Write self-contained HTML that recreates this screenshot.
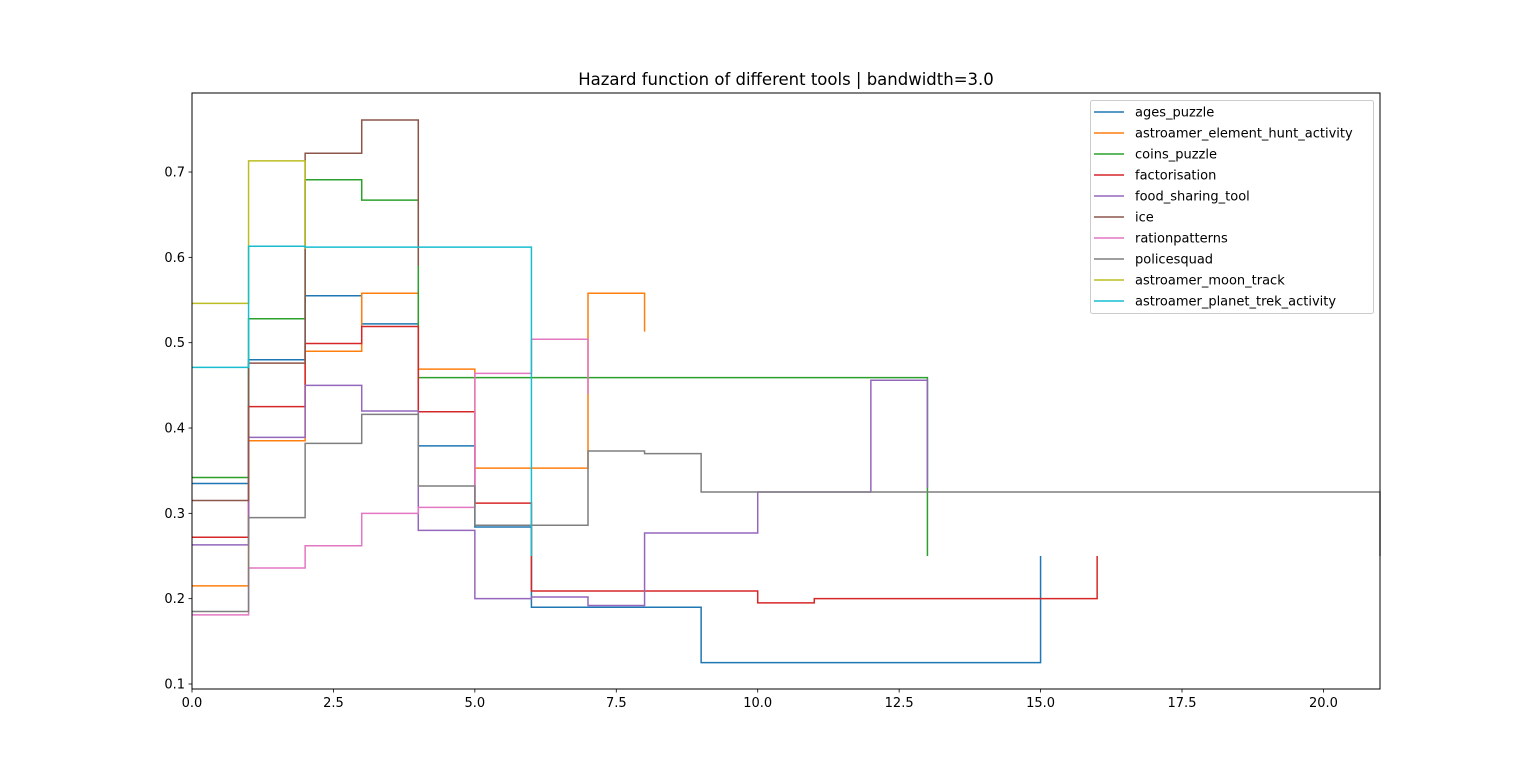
<!DOCTYPE html>
<html><head><meta charset="utf-8"><style>
html,body{margin:0;padding:0;background:#fff;}
svg{display:block;font-family:"DejaVu Sans","Liberation Sans",sans-serif;}
</style></head><body>
<svg id="chart" width="1533" height="775" viewBox="0 0 1533 775" xmlns="http://www.w3.org/2000/svg">
<rect width="1533" height="775" fill="#fff"/>
<text x="786" y="85" text-anchor="middle" font-size="16.5">Hazard function of different tools | bandwidth=3.0</text>
<g id="series"></g>
<rect x="192" y="93" width="1188" height="596" fill="none" stroke="#000" stroke-width="1"/>
<g id="xticks"></g><g id="yticks"></g>
<g id="legend"></g>
</svg>
<script>
const names = ["ages_puzzle","astroamer_element_hunt_activity","coins_puzzle","factorisation","food_sharing_tool","ice","rationpatterns","policesquad","astroamer_moon_track","astroamer_planet_trek_activity"];
const colors = ["#1f77b4","#ff7f0e","#2ca02c","#d62728","#9467bd","#8c564b","#e377c2","#7f7f7f","#bcbd22","#17becf"];
const agesPuzzle = [0.335,0.480,0.555,0.522,0.379,0.284,0.190,0.190,0.190,0.125,0.125,0.125,0.125,0.125,0.125,0.25];
const elementHunt = [0.215,0.385,0.490,0.558,0.469,0.353,0.353,0.558,0.513];
const coinsPuzzle = [0.342,0.528,0.691,0.667,0.459,0.459,0.459,0.459,0.459,0.459,0.459,0.459,0.459,0.25];
const factorisation = [0.272,0.425,0.499,0.519,0.419,0.312,0.209,0.209,0.209,0.209,0.195,0.200,0.200,0.200,0.200,0.200,0.25];
const foodSharing = [0.263,0.389,0.450,0.420,0.280,0.200,0.202,0.192,0.277,0.277,0.325,0.325,0.456,0.33];
const ice = [0.315,0.476,0.722,0.761,0.59];
const rationPatterns = [0.181,0.236,0.262,0.300,0.307,0.464,0.504,0.44];
const policeSquad = [0.185,0.295,0.382,0.416,0.332,0.286,0.286,0.373,0.370,0.325,0.325,0.325,0.325,0.325,0.325,0.325,0.325,0.325,0.325,0.325,0.325,0.25];
const moonTrack = [0.546,0.713,0.61];
const planetTrek = [0.471,0.613,0.612,0.612,0.612,0.612,0.25];
const seriesData = [agesPuzzle,elementHunt,coinsPuzzle,factorisation,foodSharing,ice,rationPatterns,policeSquad,moonTrack,planetTrek];
const xTickLabels = ["0.0","2.5","5.0","7.5","10.0","12.5","15.0","17.5","20.0"];
const xTickValues = [0,2.5,5,7.5,10,12.5,15,17.5,20];
const yTickValues = [0.1,0.2,0.3,0.4,0.5,0.6,0.7];
const yTickLabels = ["0.1","0.2","0.3","0.4","0.5","0.6","0.7"];

const X0=192,X1=1380,XMIN=0,XMAX=21;
const Y_AT_01=684,PX_PER_UNIT=853.3;
const xs=v=>X0+(v-XMIN)/(XMAX-XMIN)*(X1-X0);
const ys=v=>Y_AT_01-(v-0.1)*PX_PER_UNIT;
const NS="http://www.w3.org/2000/svg";
function mk(tag,attrs,parent){const e=document.createElementNS(NS,tag);for(const k in attrs)e.setAttribute(k,attrs[k]);parent.appendChild(e);return e;}

const sg=document.getElementById('series');
seriesData.forEach((vals,si)=>{
  let d="M"+xs(0)+","+ys(vals[0]);
  for(let i=1;i<vals.length;i++){d+=" H"+xs(i)+" V"+ys(vals[i]);}
  const p=mk('path',{d:d,fill:"none",stroke:colors[si],"stroke-width":1.5},sg);
  
  
});

const xg=document.getElementById('xticks');
xTickValues.forEach((v,i)=>{
  const x=xs(v);
  const t=mk('line',{x1:x,x2:x,y1:689,y2:692.5,stroke:"#000","stroke-width":0.8},xg);
  
  
  const l=mk('text',{x:x,y:707,"text-anchor":"middle","font-size":"13"},xg);
  l.textContent=xTickLabels[i];
  
  
});
const yg=document.getElementById('yticks');
yTickValues.forEach((v,i)=>{
  const y=ys(v);
  const t=mk('line',{x1:188.5,x2:192,y1:y,y2:y,stroke:"#000","stroke-width":0.8},yg);
  
  
  const l=mk('text',{x:185,y:y+4.5,"text-anchor":"end","font-size":"13"},yg);
  l.textContent=yTickLabels[i];
  
  
});

const lg=document.getElementById('legend');
const box=mk('rect',{x:1090.5,y:100.5,width:283,height:213,rx:2,fill:"#fff","fill-opacity":0.8,stroke:"#ccc","stroke-width":1},lg);


names.forEach((n,i)=>{
  const y=112+i*21;
  const g=mk('g',{},lg);
  
  
  mk('line',{x1:1094,x2:1124,y1:y,y2:y,stroke:colors[i],"stroke-width":1.5},g);
  const t=mk('text',{x:1135,y:y+4.5,"font-size":"13"},g);
  t.textContent=n;
});
</script>
</body></html>
